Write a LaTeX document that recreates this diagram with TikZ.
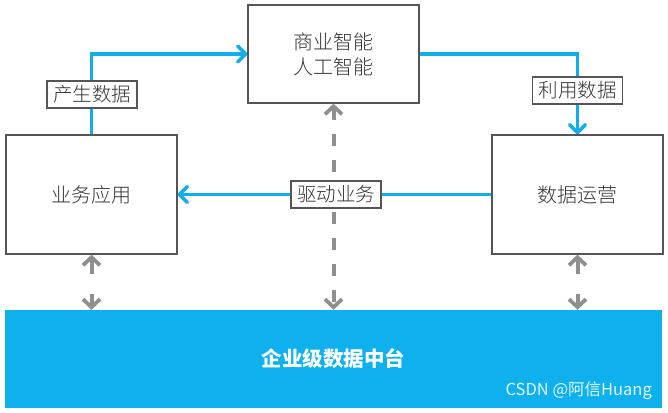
\documentclass[tikz,border=0pt]{standalone}
\usepackage{fontspec}
\setmainfont{Noto Sans CJK SC}
\newfontfamily\cjk{Noto Sans CJK SC Light}
\newfontfamily\cjkb{Noto Sans CJK SC}
\usetikzlibrary{arrows.meta}
\definecolor{boxline}{HTML}{555555}
\definecolor{txt}{HTML}{333333}
\definecolor{flow}{HTML}{12ADEB}
\definecolor{plat}{HTML}{0EB1EE}
\definecolor{link}{HTML}{8F8F8F}
\tikzset{
  block/.style={draw=boxline, line width=1.3pt, fill=white, minimum width=171pt, text=txt, font=\cjk\fontsize{20}{24}\selectfont, align=center, inner sep=0pt},
  tag/.style={draw=boxline, line width=1.1pt, fill=white, text=txt, font=\cjk\fontsize{19.5}{22}\selectfont, inner xsep=6pt, inner ysep=0pt, minimum height=27pt},
  flowline/.style={draw=flow, line width=3.5pt, -{Straight Barb[length=8pt,width=16pt,line width=3.5pt,round]}},
  linkline/.style={draw=link, line width=4pt, {Straight Barb[length=8pt,width=17pt,line width=3.8pt]}-{Straight Barb[length=8pt,width=17pt,line width=3.8pt]}},
}
\begin{document}
\begin{tikzpicture}[x=1pt,y=-1pt]
\useasboundingbox (0,0) rectangle (668,412);
\node[block, minimum height=98pt] (bi) at (333.5,54) {商业智能\\[1pt]人工智能};
\node[block, minimum height=119pt] (app) at (91.5,194.5) {业务应用};
\node[block, minimum height=119pt] (ops) at (577.5,194.5) {数据运营};
\node[fill=plat, minimum width=657pt, minimum height=98pt, inner sep=0pt, text=white, font=\cjkb\bfseries\fontsize{20.5}{24}\selectfont] (plat) at (333.5,359) {企业级数据中台};
\node[text=white!88!plat, font=\cjkb\fontsize{16.5}{18}\selectfont, anchor=east, inner sep=0pt] (mark) at (652,391) {CSDN @阿信Huang};
% gray links
\draw[linkline, dash pattern=on 12pt off 14pt] (bi.south) -- (bi.south |- plat.north);
\draw[linkline, dash pattern=on 15pt off 20pt] (app.south) -- (app.south |- plat.north);
\draw[linkline, dash pattern=on 15pt off 20pt] (ops.south) -- (ops.south |- plat.north);
% blue flows
\draw[flowline] (app.north) |- (bi.west);
\draw[flowline] (bi.east) -| (ops.north);
\draw[flowline] (ops.west) -- (app.east);
% labels
\node[tag] (t1) at (92,94.5) {产生数据};
\node[tag] (t2) at (577.5,90.5) {利用数据};
\node[tag] (t3) at (336,194.5) {驱动业务};
\end{tikzpicture}
\end{document}
